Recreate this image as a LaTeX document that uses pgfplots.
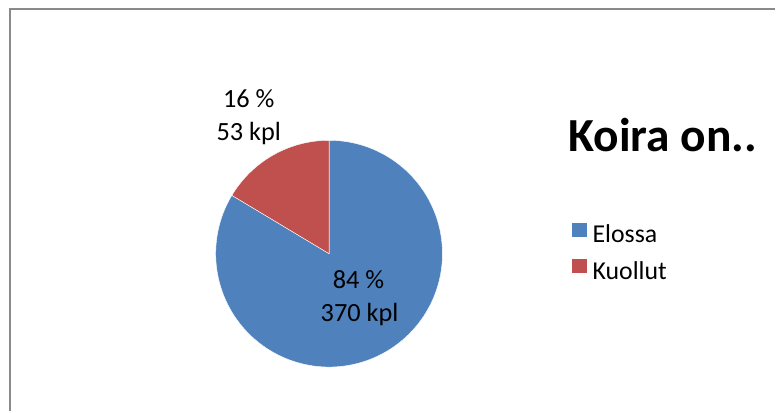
\documentclass[border=0pt]{standalone}
\usepackage{pgfplots}
\pgfplotsset{compat=1.18}
\usepackage{pgfplotstable}
\usepackage{fontspec}
\setmainfont{Carlito}
\definecolor{pieblue}{HTML}{4F81BD}
\definecolor{piered}{HTML}{C0504D}
\definecolor{framegray}{HTML}{8A8A8A}
\pgfplotstableread{
label pct count
Elossa 83.6 370
Kuollut 16.4 53
}\piedata
\pgfplotstablegetelem{0}{pct}\of\piedata \let\pctA\pgfplotsretval
\pgfplotstablegetelem{1}{pct}\of\piedata \let\pctB\pgfplotsretval
\pgfmathsetmacro{\angB}{90+3.6*\pctB}
\pgfmathsetmacro{\angA}{\angB+3.6*\pctA}
\begin{document}
\begin{tikzpicture}
\begin{axis}[width=776bp,height=412bp,scale only axis,
  xmin=0,xmax=776,ymin=0,ymax=412,hide axis,clip=false,
  legend cell align=left,
  legend image code/.code={\fill[#1] (0bp,0bp) rectangle (16bp,15bp);},
  legend style={at={(axis cs:572,190)}, anchor=north west, draw=none, fill=none,
    inner sep=0pt, outer sep=0pt, row sep=8bp,
    font=\fontsize{25.8bp}{30bp}\selectfont,
    nodes={inner sep=0pt, text height=19bp, text depth=7bp},
    /tikz/every odd column/.style={column sep=5bp}},
]
\path (axis cs:0,0) rectangle (axis cs:776,412);
\addplot[fill=pieblue, draw=white, line width=0.4bp, line join=round,
  domain=\angB:\angA, samples=300]
  ({329.5+113.5*cos(x)},{158+113.5*sin(x)}) -- (axis cs:329.5,158) -- cycle;
\addlegendentry{Elossa}
\addplot[fill=piered, draw=white, line width=0.4bp, line join=round,
  domain=90:\angB, samples=80]
  ({329.5+113.5*cos(x)},{158+113.5*sin(x)}) -- (axis cs:329.5,158) -- cycle;
\addlegendentry{Kuollut}
\draw[framegray, line width=2bp] (axis cs:10,0) -- (axis cs:10,403) -- (axis cs:776,403);
\node[anchor=base west, inner sep=0pt, font=\fontsize{47.5bp}{56bp}\selectfont\bfseries] at (axis cs:569,260) {Koira on..};
\begin{scope}[every node/.style={anchor=base, inner sep=0pt, font=\fontsize{26.3bp}{30bp}\selectfont}]
\node at (axis cs:249,304) {16 \%};
\node at (axis cs:249,271) {53 kpl};
\node at (axis cs:359,123) {84 \%};
\node at (axis cs:360,90) {370 kpl};
\end{scope}
\end{axis}
\end{tikzpicture}
\end{document}
